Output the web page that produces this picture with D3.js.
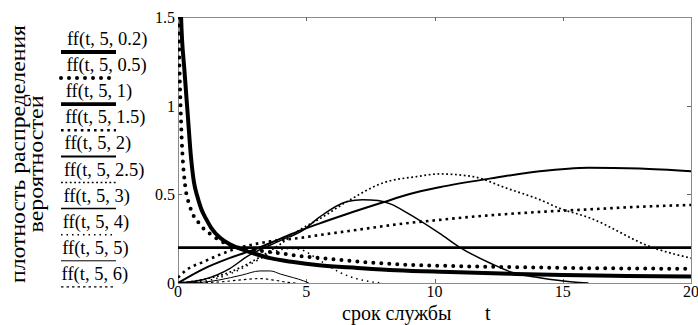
<!DOCTYPE html>
<html>
<head>
<meta charset="utf-8">
<script src="https://cdn.jsdelivr.net/npm/d3@7"></script>
<style>
    html, body { margin: 0; padding: 0; background: #fff; }
    svg { display: block; }
    text { font-family: "Liberation Serif", "Times New Roman", serif; fill: #000; }
</style>
</head>
<body>
<div id="chart"></div>
<script>
// legend labels, one per trace
var labels = ["ff(t, 5, 0.2)", "ff(t, 5, 0.5)", "ff(t, 5, 1)", "ff(t, 5, 1.5)", "ff(t, 5, 2)",
    "ff(t, 5, 2.5)", "ff(t, 5, 3)", "ff(t, 5, 4)", "ff(t, 5, 5)", "ff(t, 5, 6)"];

var xTicks = [0, 5, 10, 15, 20];
var yTicks = [0, 0.5, 1, 1.5];

// values (t, density)
var t02 = [0.05, 0.12, 0.25, 0.38, 0.5, 0.62, 0.75, 0.9, 1.1, 1.3, 1.64, 2, 2.3, 3, 3.6, 4.5, 5.5, 7, 8.5, 10.6, 13, 15, 17.5, 20];
var f02 = [2.4, 1.5, 1.2, 0.95, 0.72, 0.57, 0.49, 0.42, 0.36, 0.31, 0.255, 0.22, 0.2, 0.165, 0.14, 0.118, 0.1, 0.085, 0.072, 0.062, 0.052, 0.045, 0.04, 0.036];

var t05 = [0.01, 0.03, 0.1, 0.27, 0.47, 0.86, 1.37, 2, 2.8, 3.6, 4.9, 6, 8, 10.6, 13, 15, 17.5, 20];
var f05 = [2.4, 1.5, 1.0, 0.56, 0.43, 0.33, 0.265, 0.215, 0.19, 0.175, 0.15, 0.135, 0.11, 0.096, 0.09, 0.085, 0.082, 0.08];

var t1 = [0, 20];
var f1 = [0.2, 0.2];

var t15 = [0, 0.3, 1, 2.3, 3.6, 4.8, 5.5, 7, 8.5, 10.2, 12, 14, 16, 18, 20];
var f15 = [0.03, 0.07, 0.12, 0.195, 0.235, 0.255, 0.27, 0.3, 0.33, 0.356, 0.38, 0.4, 0.415, 0.43, 0.44];

var t2 = [0, 1, 2, 3, 4, 4.75, 5.5, 6.5, 8, 9, 10.2, 12.2, 14.1, 16, 18, 20];
var f2 = [0, 0.08, 0.14, 0.19, 0.25, 0.295, 0.335, 0.385, 0.455, 0.5, 0.54, 0.59, 0.63, 0.65, 0.645, 0.63];

var t25 = [0, 1, 2, 3, 4, 4.75, 5.5, 6.6, 8, 9.3, 10.2, 11.5, 12.8, 14.1, 14.9, 16, 18.5, 20];
var f25 = [0, 0.02, 0.06, 0.13, 0.22, 0.3, 0.36, 0.46, 0.565, 0.6, 0.615, 0.6, 0.535, 0.47, 0.42, 0.37, 0.2, 0.14];

var t3 = [0, 1, 2, 2.7, 4, 4.9, 5.5, 6.6, 7.2, 7.8, 8.3, 9, 10.2, 11, 12.2, 13.1, 14.1, 15.4, 16];
var f3 = [0, 0.02, 0.08, 0.15, 0.24, 0.3, 0.37, 0.46, 0.47, 0.465, 0.445, 0.39, 0.28, 0.2, 0.11, 0.056, 0.03, 0.006, 0];

var t4 = [0, 1, 2, 3, 3.8, 4.4, 4.75, 5.5, 6.3, 7.4, 8];
var f4 = [0, 0.01, 0.05, 0.12, 0.18, 0.195, 0.19, 0.13, 0.06, 0.01, 0];

var t5 = [0, 1, 1.6, 2.5, 3.2, 3.6, 4, 4.5, 4.9, 5.1];
var f5 = [0, 0.005, 0.017, 0.045, 0.068, 0.068, 0.05, 0.03, 0.012, 0];

var t6 = [0, 1.5, 2.5, 3.2, 3.8, 4.3, 4.6];
var f6 = [0, 0.005, 0.018, 0.025, 0.015, 0.003, 0];

var series = [[t02, f02], [t05, f05], [t1, f1], [t15, f15], [t2, f2],
    [t25, f25], [t3, f3], [t4, f4], [t5, f5], [t6, f6]];

// trace styles (width, dash, cap)
var styles = [
    { w: 4, dash: null, cap: "butt" },
    { w: 4, dash: "0 8", cap: "round" },
    { w: 2.8, dash: null, cap: "butt" },
    { w: 2.6, dash: "2.6 4", cap: "butt" },
    { w: 2, dash: null, cap: "butt" },
    { w: 1.7, dash: "1.8 2.6", cap: "butt" },
    { w: 1.5, dash: null, cap: "butt" },
    { w: 1.5, dash: "1.5 4", cap: "butt" },
    { w: 1, dash: null, cap: "butt" },
    { w: 1.2, dash: "2.5 3", cap: "butt" }
];

var width = 698, height = 325;
var svg = d3.select("#chart").append("svg")
    .attr("width", width)
    .attr("height", height);

var x = d3.scaleLinear().domain([0, 20]).range([178, 691]);
var y = d3.scaleLinear().domain([0, 1.5]).range([283, 17]);

svg.append("clipPath").attr("id", "plotClip")
    .append("rect")
    .attr("x", x(0)).attr("y", y(1.5))
    .attr("width", x(20) - x(0)).attr("height", y(0) - y(1.5));

// frame
svg.append("rect")
    .attr("x", x(0) + 0.5).attr("y", y(1.5) + 0.5)
    .attr("width", x(20) - x(0)).attr("height", y(0) - y(1.5))
    .attr("fill", "none")
    .attr("stroke", "#8a8a8a")
    .attr("stroke-width", 1);

// inside ticks on all sides
var tickLen = 4;
xTicks.slice(1, -1).forEach(function (v) {
    var px = Math.round(x(v)) + 0.5;
    svg.append("line").attr("x1", px).attr("x2", px).attr("y1", y(1.5)).attr("y2", y(1.5) + tickLen)
        .attr("stroke", "#666");
    svg.append("line").attr("x1", px).attr("x2", px).attr("y1", y(0)).attr("y2", y(0) - tickLen)
        .attr("stroke", "#666");
});
yTicks.slice(1, -1).forEach(function (v) {
    var py = Math.round(y(v)) + 0.5;
    svg.append("line").attr("x1", x(0)).attr("x2", x(0) + tickLen).attr("y1", py).attr("y2", py)
        .attr("stroke", "#666");
    svg.append("line").attr("x1", x(20)).attr("x2", x(20) - tickLen).attr("y1", py).attr("y2", py)
        .attr("stroke", "#666");
});

// tick labels
svg.selectAll(".xlab").data(xTicks).enter().append("text")
    .attr("x", function (d) { return x(d); })
    .attr("y", 297)
    .attr("text-anchor", "middle")
    .style("font-size", "16px")
    .text(function (d) { return d; });

svg.selectAll(".ylab").data(yTicks).enter().append("text")
    .attr("x", 175)
    .attr("y", function (d) { return y(d) + 6; })
    .attr("text-anchor", "end")
    .style("font-size", "16px")
    .text(function (d) { return d; });

// curves
var line = d3.line()
    .x(function (d) { return x(d[0]); })
    .y(function (d) { return y(d[1]); })
    .curve(d3.curveMonotoneX);

var plot = svg.append("g").attr("clip-path", "url(#plotClip)");
series.forEach(function (s, i) {
    var pts = s[0].map(function (t, j) { return [t, s[1][j]]; });
    plot.append("path")
        .attr("d", line(pts))
        .attr("fill", "none")
        .attr("stroke", "#000")
        .attr("stroke-width", styles[i].w)
        .attr("stroke-dasharray", styles[i].dash)
        .attr("stroke-linecap", styles[i].cap);
});

// legend
labels.forEach(function (name, i) {
    var base = 45 + i * 26.1;
    svg.append("text")
        .attr("x", 67 - i * 0.6)
        .attr("y", base)
        .style("font-size", "18.5px")
        .text(name);
    svg.append("line")
        .attr("x1", 61).attr("x2", 116)
        .attr("y1", base + 7).attr("y2", base + 7)
        .attr("stroke", "#000")
        .attr("stroke-width", styles[i].w + (i === 2 ? 1 : 0))
        .attr("stroke-dasharray", styles[i].dash)
        .attr("stroke-linecap", styles[i].cap);
});

// axis titles
svg.append("text")
    .attr("transform", "translate(25,154) rotate(-90)")
    .attr("text-anchor", "middle")
    .attr("textLength", 258)
    .attr("lengthAdjust", "spacingAndGlyphs")
    .style("font-size", "22px")
    .text("плотность распределения");
svg.append("text")
    .attr("transform", "translate(43,164) rotate(-90)")
    .attr("text-anchor", "middle")
    .attr("textLength", 137)
    .attr("lengthAdjust", "spacingAndGlyphs")
    .style("font-size", "22px")
    .text("вероятностей");

svg.append("text")
    .attr("x", 342)
    .attr("y", 320)
    .style("font-size", "20px")
    .text("срок службы");
svg.append("text")
    .attr("x", 485)
    .attr("y", 320)
    .style("font-size", "20px")
    .text("t");
</script>
</body>
</html>
